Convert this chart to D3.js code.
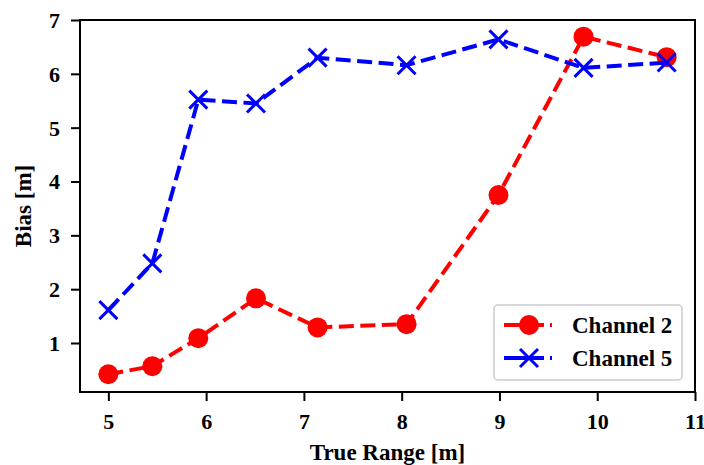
<!DOCTYPE html>
<html>
<head>
<meta charset="utf-8">
<script src="https://cdn.jsdelivr.net/npm/d3@7"></script>
<style>
  body { margin: 0; background: #fff; }
  svg text { font-family: "Liberation Serif", "Times New Roman", serif; font-weight: bold; fill: #000; }
</style>
</head>
<body>
<svg id="chart" width="704" height="465"></svg>
<script>
// values
const trueRange = [5.0, 5.45, 5.92, 6.51, 7.14, 8.05, 8.99, 9.86, 10.71];
const channel2 = [0.42, 0.57, 1.09, 1.83, 1.29, 1.35, 3.75, 6.69, 6.31];
const channel5 = [1.61, 2.48, 5.52, 5.45, 6.30, 6.16, 6.64, 6.11, 6.21];
const xTicks = [5, 6, 7, 8, 9, 10, 11];
const yTicks = [1, 2, 3, 4, 5, 6, 7];
const seriesNames = ["Channel 2", "Channel 5"];
const seriesColors = ["#ff0000", "#0000ff"];

const svg = d3.select("#chart");
const plotL = 80, plotR = 695, plotT = 20, plotB = 392;

const x = d3.scaleLinear().domain([4.71, 11]).range([plotL, plotR]);
const y = d3.scaleLinear().domain([0.09, 7]).range([plotB, plotT]);

// axes
const xAxis = svg.append("g")
  .attr("transform", `translate(0,${plotB})`)
  .call(d3.axisBottom(x).tickValues(xTicks).tickFormat(d3.format("d"))
    .tickSize(9).tickSizeOuter(0).tickPadding(12));
const yAxis = svg.append("g")
  .attr("transform", `translate(${plotL},0)`)
  .call(d3.axisLeft(y).tickValues(yTicks).tickFormat(d3.format("d"))
    .tickSize(9).tickSizeOuter(0).tickPadding(11));

[xAxis, yAxis].forEach(g => {
  g.attr("font-family", null).attr("font-size", null);
  g.selectAll(".domain").remove();
  g.selectAll("line").attr("stroke", "#000").attr("stroke-width", 2);
  g.selectAll("text").style("font-size", "22px");
});
yAxis.selectAll("text").attr("dy", "0.34em");

// box
svg.append("rect")
  .attr("x", plotL).attr("y", plotT)
  .attr("width", plotR - plotL).attr("height", plotB - plotT)
  .attr("fill", "none").attr("stroke", "#000").attr("stroke-width", 2);

// axis labels
svg.append("text")
  .attr("x", (plotL + plotR) / 2).attr("y", 460)
  .attr("text-anchor", "middle")
  .style("font-size", "23px")
  .text("True Range [m]");
svg.append("text")
  .attr("transform", `translate(31,${(plotT + plotB) / 2}) rotate(-90)`)
  .attr("text-anchor", "middle")
  .style("font-size", "23px")
  .text("Bias [m]");

const line = d3.line()
  .x((d, i) => x(trueRange[i]))
  .y(d => y(d));

function drawMarker(g, kind, cx, cy, color) {
  if (kind === "circle") {
    g.append("circle").attr("cx", cx).attr("cy", cy).attr("r", 10).attr("fill", color);
  } else {
    const s = 9;
    g.append("path")
      .attr("d", `M${cx - s},${cy - s}L${cx + s},${cy + s}M${cx - s},${cy + s}L${cx + s},${cy - s}`)
      .attr("stroke", color).attr("stroke-width", 3).attr("fill", "none");
  }
}

const allSeries = [channel2, channel5];
const kinds = ["circle", "x"];

allSeries.forEach((vals, k) => {
  const g = svg.append("g");
  g.append("path")
    .attr("d", line(vals))
    .attr("fill", "none")
    .attr("stroke", seriesColors[k])
    .attr("stroke-width", 4)
    .attr("stroke-dasharray", "15,6.5");
  vals.forEach((v, i) => drawMarker(g, kinds[k], x(trueRange[i]), y(v), seriesColors[k]));
});

// legend
const lg = svg.append("g");
lg.append("rect")
  .attr("x", 494).attr("y", 305).attr("width", 188).attr("height", 75)
  .attr("rx", 4)
  .attr("fill", "#fff").attr("fill-opacity", 0.8)
  .attr("stroke", "#cccccc").attr("stroke-width", 1.5);

seriesNames.forEach((name, k) => {
  const ry = 325 + k * 33;
  lg.append("line")
    .attr("x1", 504).attr("x2", 552).attr("y1", ry).attr("y2", ry)
    .attr("stroke", seriesColors[k]).attr("stroke-width", 4)
    .attr("stroke-dasharray", "40,6,2,100");
  drawMarker(lg, kinds[k], 529, ry, seriesColors[k]);
  lg.append("text")
    .attr("x", 572).attr("y", ry + 8)
    .style("font-size", "23px")
    .text(name);
});
</script>
</body>
</html>
